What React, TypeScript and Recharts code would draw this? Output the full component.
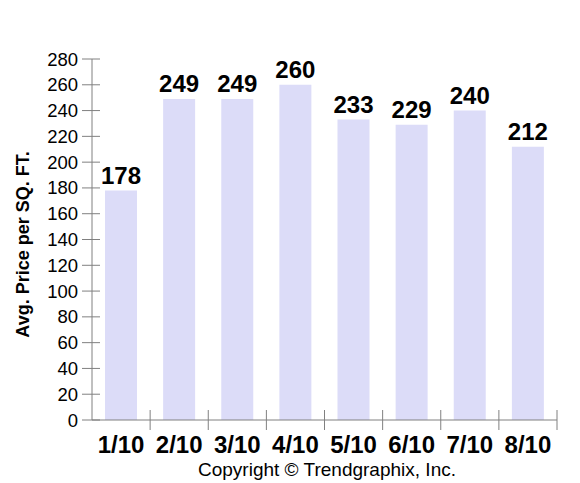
import { BarChart, Bar, XAxis, YAxis, LabelList } from 'recharts';

const months = ['1/10', '2/10', '3/10', '4/10', '5/10', '6/10', '7/10', '8/10'];
const prices = [178, 249, 249, 260, 233, 229, 240, 212];
const yTicks = [0, 20, 40, 60, 80, 100, 120, 140, 160, 180, 200, 220, 240, 260, 280];

const data = months.map((month, i) => ({ month, price: prices[i] }));

const FONT = 'Arial, "Liberation Sans", Helvetica, sans-serif';
const AXIS_GREY = '#808080';
const BAR_FILL = '#DCDCF8';

// plot area: 92..557 wide, 8 bands
const BAND = (557 - 92) / months.length;

const YTick = ({ x, y, payload }: any) => (
  <g>
    <line x1={x - 10} x2={x + 8} y1={y} y2={y} stroke={AXIS_GREY} strokeWidth={1} />
    <text x={x - 14} y={y} dy={6.5} textAnchor="end" fontSize={18.5} fontFamily={FONT} fill="#000">
      {payload.value}
    </text>
  </g>
);

const XTick = ({ x, y, payload }: any) => (
  <g>
    <line x1={x + BAND / 2} x2={x + BAND / 2} y1={y - 10} y2={y + 10} stroke={AXIS_GREY} strokeWidth={1} />
    <text x={x} y={y + 33} textAnchor="middle" fontSize={24} fontWeight="bold" fontFamily={FONT} fill="#000">
      {payload.value}
    </text>
  </g>
);

const YTitle = () => (
  <text
    transform="translate(29,244.5) rotate(-90)"
    textAnchor="middle"
    fontSize={18}
    fontWeight="bold"
    fontFamily={FONT}
    fill="#000"
  >
    Avg. Price per SQ. FT.
  </text>
);

const Copyright = () => (
  <text x={327} y={476} textAnchor="middle" fontSize={19} fontFamily={FONT} fill="#000">
    Copyright © Trendgraphix, Inc.
  </text>
);

export default function App() {
  return (
    <div style={{ position: 'absolute', left: 0, top: 0, width: 580, height: 483, background: '#fff' }}>
      <BarChart
        width={580}
        height={483}
        data={data}
        margin={{ top: 59, right: 23, left: 0, bottom: 0 }}
        barSize={32}
      >
        <XAxis
          dataKey="month"
          height={63}
          tickSize={0}
          tickMargin={0}
          tickLine={false}
          stroke={AXIS_GREY}
          tick={<XTick />}
          interval={0}
          label={{ content: Copyright }}
        />
        <YAxis
          width={92}
          domain={[0, 280]}
          ticks={yTicks}
          interval={0}
          tickSize={0}
          tickMargin={0}
          tickLine={false}
          stroke={AXIS_GREY}
          tick={<YTick />}
          label={{ content: YTitle }}
        />
        <Bar dataKey="price" fill={BAR_FILL} isAnimationActive={false}>
          <LabelList
            dataKey="price"
            position="top"
            offset={7}
            style={{ fontSize: 24, fontWeight: 'bold', fontFamily: FONT, fill: '#000' }}
          />
        </Bar>
      </BarChart>
    </div>
  );
}
